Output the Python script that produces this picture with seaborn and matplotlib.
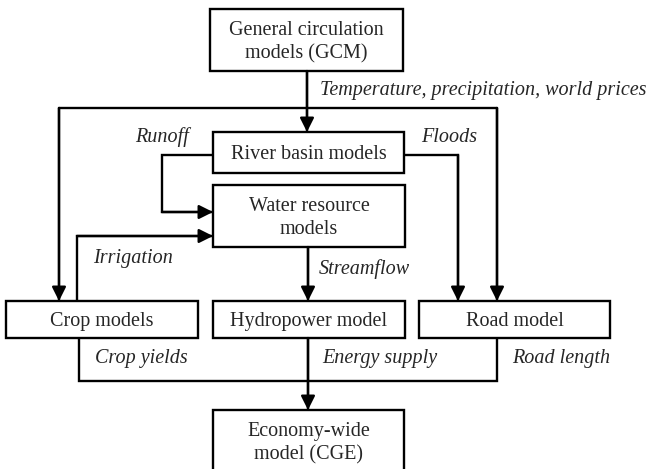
import matplotlib
matplotlib.use("Agg")
import matplotlib.pyplot as plt
import matplotlib.patches as mpatches
import seaborn as sns

# Flowchart content
box_names = ["gcm", "river", "water", "crop", "hydro", "road", "cge"]
box_labels = [
    "General circulation\nmodels (GCM)",
    "River basin models",
    "Water resource\nmodels",
    "Crop models",
    "Hydropower model",
    "Road model",
    "Economy-wide\nmodel (CGE)",
]
flow_labels = [
    "Temperature, precipitation, world prices",
    "Runoff",
    "Floods",
    "Irrigation",
    "Streamflow",
    "Crop yields",
    "Energy supply",
    "Road length",
]

# Layout in pixel space (x0, x1, y0, y1), y grows downward
box_pos = {
    "gcm": (210, 403, 9, 71),
    "river": (213, 404, 132, 173),
    "water": (213, 405, 185, 247),
    "crop": (6, 198, 301, 338),
    "hydro": (213, 405, 301, 338),
    "road": (419, 610, 301, 338),
    "cge": (213, 404, 410, 476),
}

# connector paths: list of points, last segment carries the arrow head (if arrow=True)
paths = [
    ([(307, 71), (307, 132)], True),
    ([(59, 108), (497, 108)], False),
    ([(59, 108), (59, 301)], True),
    ([(497, 108), (497, 301)], True),
    ([(213, 155), (162, 155), (162, 212), (213, 212)], True),
    ([(404, 155), (458, 155), (458, 301)], True),
    ([(77, 301), (77, 236), (213, 236)], True),
    ([(308, 247), (308, 301)], True),
    ([(79, 338), (79, 381), (497, 381), (497, 338)], False),
    ([(308, 338), (308, 410)], True),
]

# label anchors (left x, center y)
label_pos = [(320, 91), (135, 137), (421, 137), (93, 258),
             (319, 269), (95, 359), (322, 359), (512, 359)]

sns.set_theme(style="white")
plt.rcParams["font.family"] = ["Liberation Serif", "DejaVu Serif"]

fig = plt.figure(figsize=(6.5, 4.69), dpi=100)
ax = fig.add_axes([0, 0, 1, 1])
ax.set_xlim(0, 650)
ax.set_ylim(469, 0)
ax.axis("off")

lw = 1.7
fs = 14.5

# boxes
for name, label in zip(box_names, box_labels):
    x0, x1, y0, y1 = box_pos[name]
    ax.add_patch(mpatches.Rectangle((x0, y0), x1 - x0, y1 - y0, facecolor="white",
                                    edgecolor="black", lw=lw, zorder=3))
    yc = 443 if name == "cge" else (y0 + y1) / 2 + 2
    ax.text((x0 + x1) / 2, yc, label, ha="center", va="center",
            fontsize=fs, linespacing=1.3, zorder=4)

# connectors
for pts, arrow in paths:
    xs = [p[0] for p in pts]
    ys = [p[1] for p in pts]
    ax.plot(xs, ys, color="black", lw=lw, solid_joinstyle="miter", zorder=2)
    if arrow:
        ax.annotate("", xy=pts[-1], xytext=pts[-2],
                    arrowprops=dict(arrowstyle="-|>,head_length=0.6,head_width=0.3",
                                    color="black", lw=lw, mutation_scale=14,
                                    shrinkA=0, shrinkB=0), zorder=5)

# flow labels
for text, (x, y) in zip(flow_labels, label_pos):
    ax.text(x, y, text, ha="left", va="center", fontsize=fs, style="italic")

plt.savefig("out.png", dpi=100)
